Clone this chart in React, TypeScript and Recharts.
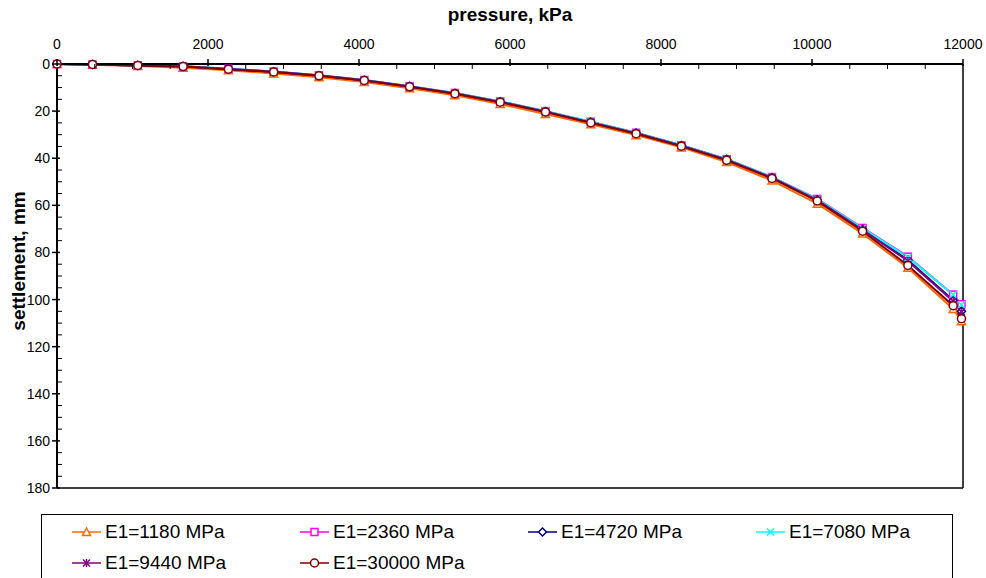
import React from "react";
import { LineChart, Line, XAxis, YAxis, ReferenceLine } from "recharts";

const pressure = [
  0, 470, 1070, 1670, 2270, 2870, 3470, 4070, 4670, 5270, 5870, 6470, 7070,
  7670, 8270, 8870, 9470, 10070, 10670, 11270, 11870, 11980,
];

const e1180 = [
  0, 0.3, 0.9, 1.6, 2.7, 4.0, 5.6, 7.6, 10.3, 13.3, 17.0, 21.2, 25.6, 30.2,
  35.4, 41.6, 49.5, 59.3, 72.0, 86.5, 104.0, 109.2,
];
const e2360 = [
  0, 0.2, 0.6, 1.0, 2.0, 3.2, 4.8, 6.8, 9.4, 12.3, 15.9, 20.0, 24.5, 29.2,
  34.5, 40.4, 48.0, 57.3, 69.6, 81.8, 97.9, 102.0,
];
const e4720 = [
  0, 0.2, 0.6, 1.0, 2.1, 3.3, 4.9, 6.9, 9.5, 12.4, 16.0, 20.2, 24.7, 29.3,
  34.6, 40.5, 48.2, 57.7, 70.2, 83.2, 100.3, 105.0,
];
const e7080 = [
  0, 0.2, 0.6, 1.0, 2.0, 3.2, 4.8, 6.8, 9.4, 12.3, 15.9, 20.0, 24.5, 29.2,
  34.5, 40.4, 48.0, 57.4, 69.8, 82.0, 98.0, 102.2,
];
const e9440 = [
  0, 0.2, 0.6, 1.1, 2.1, 3.3, 4.9, 6.9, 9.6, 12.5, 16.1, 20.3, 24.8, 29.4,
  34.7, 40.6, 48.3, 57.8, 70.4, 83.6, 100.7, 105.3,
];
const e30000 = [
  0, 0.2, 0.6, 1.1, 2.2, 3.4, 5.0, 7.0, 9.7, 12.6, 16.2, 20.4, 24.9, 29.6,
  34.9, 40.9, 48.6, 58.2, 71.0, 85.5, 102.6, 108.1,
];

const seriesNames = [
  "E1=1180 MPa",
  "E1=2360 MPa",
  "E1=4720 MPa",
  "E1=7080 MPa",
  "E1=9440 MPa",
  "E1=30000 MPa",
];
const seriesValues = [e1180, e2360, e4720, e7080, e9440, e30000];
const seriesColors = ["#FF6600", "#FF00FF", "#000080", "#00FFFF", "#800080", "#800000"];
const seriesShapes = ["triangle", "square", "diamond", "cross", "star", "circle"];

const xMajor = [0, 2000, 4000, 6000, 8000, 10000, 12000];
const yMajor = [0, 20, 40, 60, 80, 100, 120, 140, 160, 180];
const xTicks: number[] = [];
for (let v = 0; v <= 12000; v += 500) xTicks.push(v);
const yTicks: number[] = [];
for (let v = 0; v <= 180; v += 5) yTicks.push(v);

const data = pressure.map((p, i) => {
  const row: Record<string, number> = { p };
  seriesValues.forEach((vals, k) => {
    row["s" + k] = vals[i];
  });
  return row;
});

const FONT = '"Liberation Sans", Arial, sans-serif';

function Marker({ shape, cx, cy, color }: { shape: string; cx: number; cy: number; color: string }) {
  const sw = 1.5;
  if (shape === "triangle")
    return (
      <polygon
        points={`${cx},${cy - 4} ${cx - 4},${cy + 3.5} ${cx + 4},${cy + 3.5}`}
        fill="#fff"
        stroke={color}
        strokeWidth={sw}
      />
    );
  if (shape === "square")
    return <rect x={cx - 3.5} y={cy - 3.5} width={7} height={7} fill="#fff" stroke={color} strokeWidth={sw} />;
  if (shape === "diamond")
    return (
      <polygon
        points={`${cx},${cy - 4} ${cx + 4},${cy} ${cx},${cy + 4} ${cx - 4},${cy}`}
        fill="#fff"
        stroke={color}
        strokeWidth={sw}
      />
    );
  if (shape === "cross")
    return (
      <g stroke={color} strokeWidth={sw}>
        <line x1={cx - 3.5} y1={cy - 3.5} x2={cx + 3.5} y2={cy + 3.5} />
        <line x1={cx - 3.5} y1={cy + 3.5} x2={cx + 3.5} y2={cy - 3.5} />
      </g>
    );
  if (shape === "star")
    return (
      <g stroke={color} strokeWidth={sw}>
        <line x1={cx - 3.5} y1={cy - 3.5} x2={cx + 3.5} y2={cy + 3.5} />
        <line x1={cx - 3.5} y1={cy + 3.5} x2={cx + 3.5} y2={cy - 3.5} />
        <line x1={cx} y1={cy - 4} x2={cx} y2={cy + 4} />
      </g>
    );
  return <circle cx={cx} cy={cy} r={4} fill="#fff" stroke={color} strokeWidth={sw} />;
}

const XTick = (props: any) => {
  const { x, y, payload } = props;
  const major = xMajor.includes(payload.value);
  return (
    <g>
      {major ? (
        <line x1={x} y1={y - 5} x2={x} y2={y + 2} stroke="#000" strokeWidth={1.5} />
      ) : (
        <line x1={x} y1={y} x2={x} y2={y + 5} stroke="#000" strokeWidth={1} />
      )}
      {major && (
        <text x={x} y={y - 15} textAnchor="middle" fontSize={14} fontFamily={FONT} fill="#000">
          {payload.value}
        </text>
      )}
    </g>
  );
};

const YTick = (props: any) => {
  const { x, y, payload } = props;
  const major = yMajor.includes(payload.value);
  return (
    <g>
      {major ? (
        <line x1={x - 5} y1={y} x2={x + 3} y2={y} stroke="#000" strokeWidth={1.5} />
      ) : (
        <line x1={x} y1={y} x2={x + 5} y2={y} stroke="#000" strokeWidth={1} />
      )}
      {major && (
        <text x={x - 7} y={y + 5} textAnchor="end" fontSize={14} fontFamily={FONT} fill="#000">
          {payload.value}
        </text>
      )}
    </g>
  );
};

const legendCols = [72, 300, 528, 756];
const legendRows = [532, 563];

export default function App() {
  return (
    <div style={{ position: "absolute", left: 0, top: 0, width: 986, height: 578, background: "#fff", overflow: "hidden" }}>
      <LineChart width={986} height={578} data={data} margin={{ top: 0, right: 23, bottom: 90, left: 0 }}>
        <XAxis
          dataKey="p"
          type="number"
          orientation="top"
          domain={[0, 12000]}
          ticks={xTicks}
          interval={0}
          height={64}
          tickSize={0}
          tickMargin={0}
          tick={<XTick />}
          axisLine={{ stroke: "#000", strokeWidth: 2 }}
        />
        <YAxis
          type="number"
          reversed
          domain={[0, 180]}
          ticks={yTicks}
          interval={0}
          width={57}
          tickSize={0}
          tickMargin={0}
          tick={<YTick />}
          axisLine={{ stroke: "#000", strokeWidth: 2 }}
        />
        <ReferenceLine y={180} stroke="#000" strokeWidth={1.5} />
        <ReferenceLine x={12000} stroke="#000" strokeWidth={1.5} />
        {seriesNames.map((name, k) => (
          <Line
            key={name}
            name={name}
            dataKey={"s" + k}
            stroke={seriesColors[k]}
            strokeWidth={2}
            type="linear"
            isAnimationActive={false}
            dot={(p: any) => (
              <Marker key={`${k}-${p.index}`} shape={seriesShapes[k]} cx={p.cx} cy={p.cy} color={seriesColors[k]} />
            )}
            activeDot={false}
          />
        ))}
      </LineChart>
      <div
        style={{
          position: "absolute",
          left: 510,
          top: 22,
          transform: "translate(-50%, -80%)",
          fontFamily: FONT,
          fontWeight: "bold",
          fontSize: 19,
          whiteSpace: "nowrap",
        }}
      >
        pressure, kPa
      </div>
      <div
        style={{
          position: "absolute",
          left: 19,
          top: 261,
          transform: "translate(-50%, -50%) rotate(-90deg)",
          fontFamily: FONT,
          fontWeight: "bold",
          fontSize: 19,
          whiteSpace: "nowrap",
          lineHeight: "20px",
        }}
      >
        settlement, mm
      </div>
      <div
        style={{
          position: "absolute",
          left: 41,
          top: 514,
          width: 912,
          height: 80,
          border: "1px solid #000",
          boxSizing: "border-box",
        }}
      />
      {seriesNames.map((name, k) => (
        <div
          key={name}
          style={{
            position: "absolute",
            left: legendCols[k % 4],
            top: legendRows[Math.floor(k / 4)] - 12,
            height: 24,
            display: "flex",
            alignItems: "center",
            fontFamily: FONT,
            fontSize: 19,
            whiteSpace: "nowrap",
          }}
        >
          <svg width={29} height={24} style={{ display: "block" }}>
            <line x1={0} y1={12} x2={29} y2={12} stroke={seriesColors[k]} strokeWidth={1.5} />
            <Marker shape={seriesShapes[k]} cx={14.5} cy={12} color={seriesColors[k]} />
          </svg>
          <span style={{ marginLeft: 4 }}>{name}</span>
        </div>
      ))}
    </div>
  );
}
